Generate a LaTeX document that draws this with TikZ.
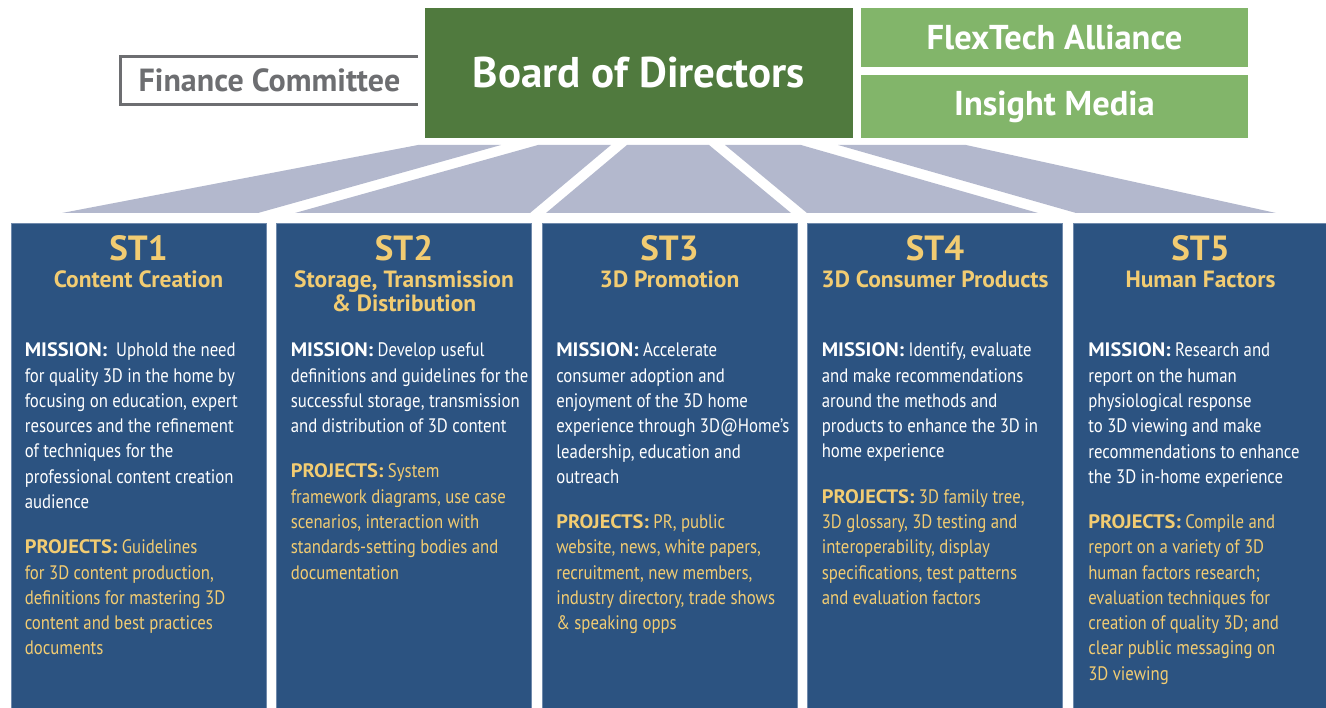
\documentclass[tikz,border=0pt]{standalone}
\usepackage{fontspec}
\setmainfont{PT Sans}
\newfontfamily\condfont{PT Sans}[FakeStretch=0.86, BoldFeatures={FakeStretch=1.05}]
\usetikzlibrary{positioning}

\definecolor{stblue}{RGB}{44,83,129}
\definecolor{stedge}{RGB}{112,138,172}
\definecolor{stgold}{RGB}{242,204,114}
\definecolor{boardgreen}{RGB}{80,122,62}
\definecolor{partnergreen}{RGB}{130,181,106}
\definecolor{fangray}{RGB}{179,184,205}
\definecolor{fingray}{RGB}{109,110,113}

\begin{document}
\begin{tikzpicture}[x=1pt, y=-1pt,
	stbox/.style={draw=stedge, line width=0.8pt, fill=stblue, minimum width=255pt, minimum height=485pt, inner sep=0pt},
	stnum/.style={anchor=base, text=stgold, font=\fontsize{35}{35}\selectfont\bfseries},
	sttitle/.style={anchor=base, align=center, text=stgold, font=\fontsize{23.5}{24}\selectfont\bfseries},
	stmission/.style={anchor=north west, align=left, inner sep=0pt, text=white, font=\condfont\fontsize{19.5}{25.3}\selectfont},
	stprojects/.style={stmission, text=stgold},
	partner/.style={fill=partnergreen, text=white, minimum width=387pt, inner sep=0pt, font=\fontsize{34.5}{34.5}\selectfont\bfseries},
	fan/.style={fill=fangray}]
	\useasboundingbox (0,0) rectangle (1326,708);

	% Define nodes
	\node[minimum width=297pt, minimum height=47pt, text=fingray, font=\fontsize{32}{32}\selectfont\bfseries] (finance) at (269.5,80.5) {Finance Committee};
	\node[fill=boardgreen, text=white, minimum width=428pt, minimum height=130pt, font=\fontsize{43}{43}\selectfont\bfseries] (board) at (639,73) {Board of Directors};
	\node[partner, minimum height=59pt] (flextech) at (1054.5,37.5) {FlexTech Alliance};
	\node[partner, minimum height=63pt] (insight) at (1054.5,106.5) {Insight Media};

	\node[stbox] (st1) at (138.5,465.5) {};
	\node[stbox] (st2) at (404,465.5) {};
	\node[stbox] (st3) at (669.5,465.5) {};
	\node[stbox] (st4) at (935,465.5) {};
	\node[stbox] (st5) at (1200.5,465.5) {};

	% Fans from the board down to the teams
	\foreach \a/\b/\c/\d in {418/501/258/62, 538/611/530/295, 627/709/791/546, 725/801/1038/807, 838/966/1276/1076}
		\fill[fan] (\a,145) -- (\b,145) -- (\c,213) -- (\d,213) -- cycle;

	% Open box round the committee
	\draw[fingray, line width=3pt] (finance.north east) -| (finance.south west) -- (finance.south east);

	% Team headings
	\node[stnum] (st1num) at ([yshift=-38pt]st1.north) {ST1};
	\node[stnum] (st2num) at ([yshift=-38pt]st2.north) {ST2};
	\node[stnum] (st3num) at ([yshift=-38pt]st3.north) {ST3};
	\node[stnum] (st4num) at ([yshift=-38pt]st4.north) {ST4};
	\node[stnum] (st5num) at ([yshift=-38pt]st5.north) {ST5};
	\node[sttitle] (st1title) at ([yshift=-65pt]st1.north) {Content Creation};
	\node[sttitle] (st2title) at ([yshift=-89pt]st2.north) {Storage, Transmission\\\& Distribution};
	\node[sttitle] (st3title) at ([yshift=-65pt]st3.north) {3D Promotion};
	\node[sttitle] (st4title) at ([yshift=-65pt]st4.north) {3D Consumer Products};
	\node[sttitle] (st5title) at ([yshift=-65pt]st5.north) {Human Factors};

	% Missions (the rules fix the first height and the last depth)
	\node[stmission] (st1mission) at ([xshift=14pt, yshift=-118pt]st1.north west) {\rule{0pt}{16pt}\textbf{MISSION:}\ \ Uphold the need\\for quality 3D in the home by\\focusing on education, expert\\resources and the refinement\\of techniques for the\\professional content creation\\audience\rule[-7pt]{0pt}{7pt}};
	\node[stmission] (st2mission) at ([xshift=14.5pt, yshift=-118pt]st2.north west) {\rule{0pt}{16pt}\textbf{MISSION:} Develop useful\\definitions and guidelines for the\\successful storage, transmission\\and distribution of 3D content\rule[-7pt]{0pt}{7pt}};
	\node[stmission] (st3mission) at ([xshift=14.5pt, yshift=-118pt]st3.north west) {\rule{0pt}{16pt}\textbf{MISSION:} Accelerate\\consumer adoption and\\enjoyment of the 3D home\\experience through 3D@Home’s\\leadership, education and\\outreach\rule[-7pt]{0pt}{7pt}};
	\node[stmission] (st4mission) at ([xshift=14.5pt, yshift=-118pt]st4.north west) {\rule{0pt}{16pt}\textbf{MISSION:} Identify, evaluate\\and make recommendations\\around the methods and\\products to enhance the 3D in\\home experience\rule[-7pt]{0pt}{7pt}};
	\node[stmission] (st5mission) at ([xshift=15.5pt, yshift=-118pt]st5.north west) {\rule{0pt}{16pt}\textbf{MISSION:} Research and\\report on the human\\physiological response\\to 3D viewing and make\\recommendations to enhance\\the 3D in-home experience\rule[-7pt]{0pt}{7pt}};

	% Projects
	\node[stprojects, below=21.7pt of st1mission.south west, anchor=north west] (st1projects) {\rule{0pt}{16pt}\textbf{PROJECTS:} Guidelines\\for 3D content production,\\definitions for mastering 3D\\content and best practices\\documents};
	\node[stprojects, below=21.7pt of st2mission.south west, anchor=north west] (st2projects) {\rule{0pt}{16pt}\textbf{PROJECTS:} System\\framework diagrams, use case\\scenarios, interaction with\\standards-setting bodies and\\documentation};
	\node[stprojects, below=21.7pt of st3mission.south west, anchor=north west] (st3projects) {\rule{0pt}{16pt}\textbf{PROJECTS:} PR, public\\website, news, white papers,\\recruitment, new members,\\industry directory, trade shows\\\& speaking opps};
	\node[stprojects, below=21.7pt of st4mission.south west, anchor=north west] (st4projects) {\rule{0pt}{16pt}\textbf{PROJECTS:} 3D family tree,\\3D glossary, 3D testing and\\interoperability, display\\specifications, test patterns\\and evaluation factors};
	\node[stprojects, below=21.7pt of st5mission.south west, anchor=north west] (st5projects) {\rule{0pt}{16pt}\textbf{PROJECTS:} Compile and\\report on a variety of 3D\\human factors research;\\evaluation techniques for\\creation of quality 3D; and\\clear public messaging on\\3D viewing};
\end{tikzpicture}
\end{document}
